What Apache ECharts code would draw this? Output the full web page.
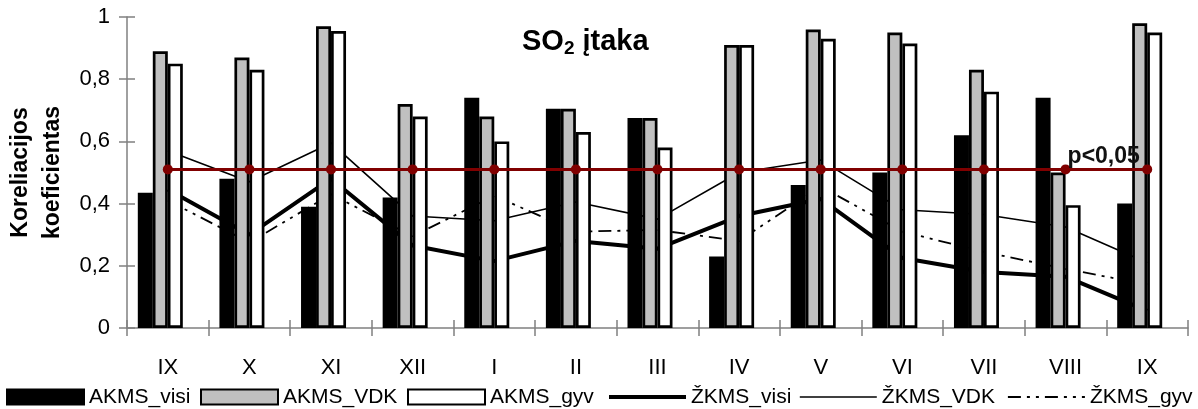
<!DOCTYPE html>
<html>
<head>
<meta charset="utf-8">
<script src="https://cdn.jsdelivr.net/npm/echarts@6/dist/echarts.min.js"></script>
<style>
  html, body { margin: 0; padding: 0; background: #fff; }
  #chart { width: 1198px; height: 409px; }
</style>
</head>
<body>
<div id="chart"></div>
<script>
// Months of the observation period (September to September)
const months = ['IX', 'X', 'XI', 'XII', 'I', 'II', 'III', 'IV', 'V', 'VI', 'VII', 'VIII', 'IX'];

// Correlation coefficients, AKMS stations (bars)
const akmsVisi = [0.435, 0.48, 0.39, 0.42, 0.74, 0.705, 0.675, 0.23, 0.46, 0.50, 0.62, 0.74, 0.40];
const akmsVdk  = [0.89, 0.87, 0.97, 0.72, 0.68, 0.705, 0.675, 0.91, 0.96, 0.95, 0.83, 0.50, 0.98];
const akmsGyv  = [0.85, 0.83, 0.955, 0.68, 0.60, 0.63, 0.58, 0.91, 0.93, 0.915, 0.76, 0.395, 0.95];

// Correlation coefficients, ŽKMS stations (lines)
const zkmsVisi = [0.445, 0.30, 0.48, 0.265, 0.215, 0.28, 0.255, 0.36, 0.415, 0.225, 0.18, 0.165, 0.055];
const zkmsVdk  = [0.57, 0.47, 0.595, 0.36, 0.345, 0.405, 0.35, 0.50, 0.54, 0.38, 0.365, 0.325, 0.21];
const zkmsGyv  = [0.41, 0.275, 0.43, 0.295, 0.425, 0.31, 0.315, 0.28, 0.455, 0.31, 0.245, 0.19, 0.14];

// Significance threshold (p<0,05)
const significance = [0.51, 0.51, 0.51, 0.51, 0.51, 0.51, 0.51, 0.51, 0.51, 0.51, 0.51, 0.51, 0.51];
const significanceLabel = 'p<0,05';

// Y axis tick values
const yTicks = [0, 0.2, 0.4, 0.6, 0.8, 1];

const FONT = '"Liberation Sans", Arial, sans-serif';
const AXIS_GREY = '#808080';
const DASH_DOT_DOT = [13, 6, 3, 6, 3, 6];

const chart = echarts.init(document.getElementById('chart'), null, { renderer: 'canvas' });

function barSeries(name, data, fill) {
  return {
    name: name,
    type: 'bar',
    data: data,
    barWidth: 15,
    barGap: '0%',
    z: 3,
    itemStyle: { color: fill, borderColor: '#000', borderWidth: 2.7 },
    emphasis: { disabled: true }
  };
}

function lineSeries(name, data, width, type) {
  return {
    name: name,
    type: 'line',
    data: data,
    symbol: 'none',
    z: 2,
    lineStyle: { color: '#000', width: width, type: type },
    itemStyle: { color: '#000' },
    emphasis: { disabled: true }
  };
}

function legendAt(name, left, extra) {
  return Object.assign({
    data: [name],
    left: left,
    top: 386,
    padding: 0,
    itemWidth: 77,
    itemHeight: 15,
    textStyle: { fontFamily: FONT, fontSize: 21, color: '#000', lineHeight: 22 },
    selectedMode: false
  }, extra || {});
}

// line entries show only the stroke, no marker
const lineLegend = (width, type) => ({
  itemStyle: { opacity: 0 },
  lineStyle: { color: '#000', width: width, type: type }
});

const option = {
  animation: false,
  backgroundColor: '#fff',
  title: {
    text: '{a|SO}{b|2}{a| įtaka}',
    left: 522,
    top: 24,
    padding: 0,
    textStyle: {
      rich: {
        a: { fontFamily: FONT, fontSize: 29, fontWeight: 'bold', color: '#000', lineHeight: 36 },
        b: { fontFamily: FONT, fontSize: 19, fontWeight: 'bold', color: '#000', lineHeight: 23, padding: [13, 0, 0, 0] }
      }
    }
  },
  grid: { left: 127, right: 10, top: 17, bottom: 81, containLabel: false, outerBoundsMode: 'none' },
  legend: [
    legendAt('AKMS_visi', 6, { icon: 'rect' }),
    legendAt('AKMS_VDK', 200, { icon: 'rect' }),
    legendAt('AKMS_gyv', 407, { icon: 'rect' }),
    legendAt('ŽKMS_visi', 607, lineLegend(4, 'solid')),
    legendAt('ŽKMS_VDK', 799, lineLegend(1.6, 'solid')),
    legendAt('ŽKMS_gyv', 1007, lineLegend(1.8, DASH_DOT_DOT))
  ],
  xAxis: [
    {
      type: 'category',
      data: months,
      position: 'bottom',
      boundaryGap: true,
      axisLine: { lineStyle: { color: AXIS_GREY, width: 1.5 } },
      axisTick: { show: true, length: 8, inside: false, lineStyle: { color: AXIS_GREY, width: 1.5 } },
      axisLabel: { fontFamily: FONT, fontSize: 22, color: '#000', margin: 29, interval: 0 },
      splitLine: { show: false }
    },
    {
      type: 'category',
      data: months,
      position: 'bottom',
      boundaryGap: true,
      axisLine: { show: false },
      axisTick: { show: true, length: 8, inside: true, lineStyle: { color: AXIS_GREY, width: 1.5 } },
      axisLabel: { show: false },
      splitLine: { show: false }
    }
  ],
  yAxis: [
    {
      type: 'value',
      min: yTicks[0],
      max: yTicks[yTicks.length - 1],
      interval: yTicks[1] - yTicks[0],
      position: 'left',
      name: 'Koreliacijos\nkoeficientas',
      nameLocation: 'middle',
      nameRotate: 90,
      nameGap: 57,
      nameTextStyle: { fontFamily: FONT, fontSize: 23, fontWeight: 'bold', color: '#000', lineHeight: 32 },
      axisLine: { show: true, onZero: false, lineStyle: { color: AXIS_GREY, width: 1.5 } },
      axisTick: { show: true, length: 8, inside: false, lineStyle: { color: AXIS_GREY, width: 1.5 } },
      axisLabel: {
        fontFamily: FONT, fontSize: 22, color: '#000', margin: 17,
        formatter: v => String(Math.round(v * 10) / 10).replace('.', ',')
      },
      splitLine: { show: false }
    },
    {
      type: 'value',
      min: yTicks[0],
      max: yTicks[yTicks.length - 1],
      interval: yTicks[1] - yTicks[0],
      position: 'left',
      axisLine: { show: false },
      axisTick: { show: true, length: 8, inside: true, lineStyle: { color: AXIS_GREY, width: 1.5 } },
      axisLabel: { show: false },
      splitLine: { show: false }
    }
  ],
  series: [
    barSeries('AKMS_visi', akmsVisi, '#000'),
    barSeries('AKMS_VDK', akmsVdk, '#c0c0c0'),
    barSeries('AKMS_gyv', akmsGyv, '#fff'),
    // empty fourth slot keeps each bar cluster shifted left of the month centre
    { name: 'emptySlot', type: 'bar', data: months.map(() => '-'), barWidth: 15, barGap: '0%', silent: true },
    lineSeries('ŽKMS_visi', zkmsVisi, 4, 'solid'),
    lineSeries('ŽKMS_VDK', zkmsVdk, 1.6, 'solid'),
    lineSeries('ŽKMS_gyv', zkmsGyv, 1.8, DASH_DOT_DOT),
    {
      name: 'p<0,05',
      type: 'line',
      data: significance.map((v, i) => i === 11 ? {
        value: v,
        label: {
          show: true, formatter: significanceLabel, position: 'top', align: 'left', distance: 0,
          offset: [2, 4], fontFamily: FONT, fontSize: 23, fontWeight: 'bold', color: '#111'
        }
      } : v),
      symbol: 'circle',
      symbolSize: 10,
      showSymbol: true,
      z: 5,
      lineStyle: { color: '#800000', width: 3 },
      itemStyle: { color: '#800000' },
      emphasis: { disabled: true }
    }
  ]
};

chart.setOption(option);
</script>
</body>
</html>
